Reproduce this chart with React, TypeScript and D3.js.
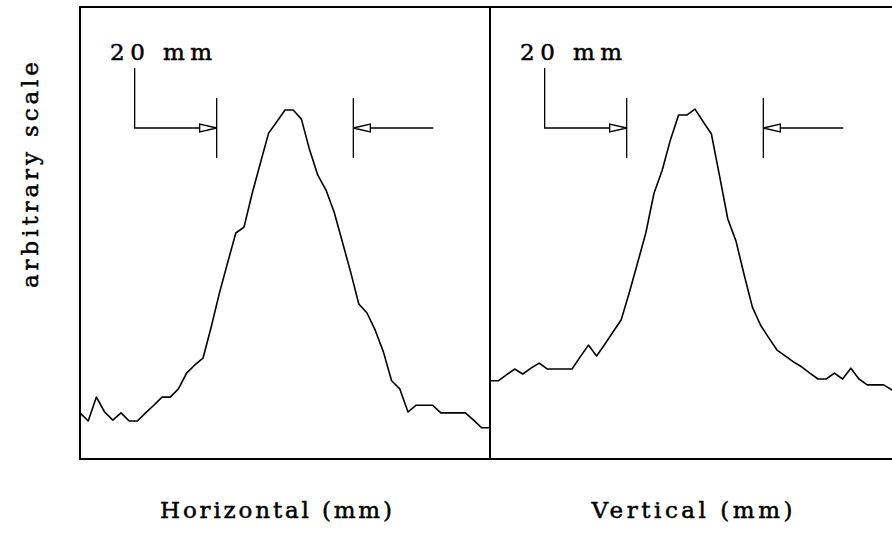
import * as d3 from "d3";

// sample positions along each scan (mm)
const positionsMm = [
  0, 1.2, 2.4, 3.6, 4.8, 6, 7.2, 8.4, 9.6, 10.8, 12, 13.2, 14.4, 15.6, 16.8, 18,
  19.2, 20.4, 21.6, 22.8, 24, 25.2, 26.4, 27.6, 28.8, 30, 31.2, 32.4, 33.6, 34.8,
  36, 37.2, 38.4, 39.6, 40.8, 42, 43.2, 44.4, 45.6, 46.8, 48, 49.2, 50.4, 51.6,
  52.8, 54, 55.2, 56.4, 57.6, 58.8, 60,
];

const horizontalProfile = [
  10.2, 8.4, 13.7, 10.4, 8.6, 10.2, 8.4, 8.4, 10.2, 11.9, 13.7, 13.7, 15.5, 19.0,
  20.8, 22.3, 29.2, 36.7, 43.4, 50.0, 51.3, 58.8, 65.5, 72.1, 74.6, 77.2, 77.2,
  75.2, 68.4, 62.8, 59.5, 54.6, 48.0, 41.4, 34.3, 32.3, 28.5, 23.7, 17.3, 15.5,
  10.4, 11.9, 11.9, 11.9, 10.2, 10.2, 10.2, 10.2, 8.6, 6.9, 6.9,
];

const verticalProfile = [
  17.3, 17.3, 18.6, 19.9, 18.8, 20.1, 21.2, 19.9, 19.9, 19.9, 19.9, 22.6, 25.2,
  22.8, 25.4, 28.1, 30.8, 36.9, 43.4, 50.0, 58.8, 63.9, 70.6, 76.1, 76.1, 77.4,
  74.6, 71.9, 62.6, 53.1, 48.2, 40.7, 33.6, 29.6, 26.8, 24.1, 22.8, 21.5, 20.4,
  19.0, 17.7, 17.7, 19.0, 17.7, 20.1, 17.7, 16.4, 16.4, 16.4, 15.3, 14.2,
];

const panelLabels = ["Horizontal (mm)", "Vertical (mm)"];
const yLabel = "arbitrary scale";
const widthLabel = "20 mm";
// FWHM markers (mm)
const fwhmEdges = [20, 40];

const W = 892;
const H = 533;
const PANEL = { top: 7, bottom: 459, left: 80, width: 410 };
const FONT = "'DejaVu Serif', serif";
const FONT_SIZE = 23;

type Pt = { x: number; y: number };

const textStyle = {
  fontFamily: FONT,
  fontSize: FONT_SIZE,
  stroke: "#000",
  strokeWidth: 0.5,
  fill: "#000",
};

const Panel = ({ index, values }: { index: number; values: number[] }) => {
  const x0 = PANEL.left + index * PANEL.width;
  const xScale = d3.scaleLinear().domain([0, 60]).range([x0, x0 + PANEL.width]);
  const yScale = d3.scaleLinear().domain([0, 100]).range([PANEL.bottom, PANEL.top]);

  const pts: Pt[] = positionsMm.map((p, i) => ({ x: p, y: values[i] }));
  const line = d3
    .line<Pt>()
    .x((d) => xScale(d.x))
    .y((d) => yScale(d.y));

  const arrowY = 128;
  const barTop = 98;
  const barBottom = 158;
  const xa = xScale(fwhmEdges[0]);
  const xb = xScale(fwhmEdges[1]);
  const elbowX = xScale(8);
  const tailX = xScale(51.7);
  const head = 17;
  const hw = 4;

  return (
    <g>
      <rect
        x={x0}
        y={PANEL.top}
        width={PANEL.width}
        height={PANEL.bottom - PANEL.top}
        fill="none"
        stroke="#000"
        strokeWidth={2}
      />
      <path d={line(pts) || ""} fill="none" stroke="#000" strokeWidth={1.6} strokeLinejoin="round" />

      {/* 20 mm annotation */}
      <text x={xScale(4.4)} y={60} style={textStyle} textLength={102} lengthAdjust="spacing">
        {widthLabel}
      </text>
      <g stroke="#000" strokeWidth={1.3} fill="none">
        <polyline points={`${elbowX},68 ${elbowX},${arrowY} ${xa - head},${arrowY}`} />
        <line x1={xa} x2={xa} y1={barTop} y2={barBottom} />
        <polygon
          points={`${xa},${arrowY} ${xa - head},${arrowY - hw} ${xa - head},${arrowY + hw}`}
          fill="#fff"
        />
        <line x1={xb} x2={xb} y1={barTop} y2={barBottom} />
        <polygon
          points={`${xb},${arrowY} ${xb + head},${arrowY - hw} ${xb + head},${arrowY + hw}`}
          fill="#fff"
        />
        <line x1={xb + head} x2={tailX} y1={arrowY} y2={arrowY} />
      </g>

      <text
        x={index === 0 ? 276 : 692}
        y={518}
        textAnchor="middle"
        style={textStyle}
        textLength={index === 0 ? 232 : 201}
        lengthAdjust="spacing"
      >
        {panelLabels[index]}
      </text>
    </g>
  );
};

export default function App() {
  return (
    <svg
      width={W}
      height={H}
      style={{ position: "absolute", left: 0, top: 0, background: "#fff" }}
    >
      <rect x={0} y={0} width={W} height={H} fill="#fff" />
      <Panel index={0} values={horizontalProfile} />
      <Panel index={1} values={verticalProfile} />
      <text
        transform={`translate(38,175) rotate(-90)`}
        textAnchor="middle"
        style={textStyle}
        textLength={226}
        lengthAdjust="spacing"
      >
        {yLabel}
      </text>
    </svg>
  );
}
